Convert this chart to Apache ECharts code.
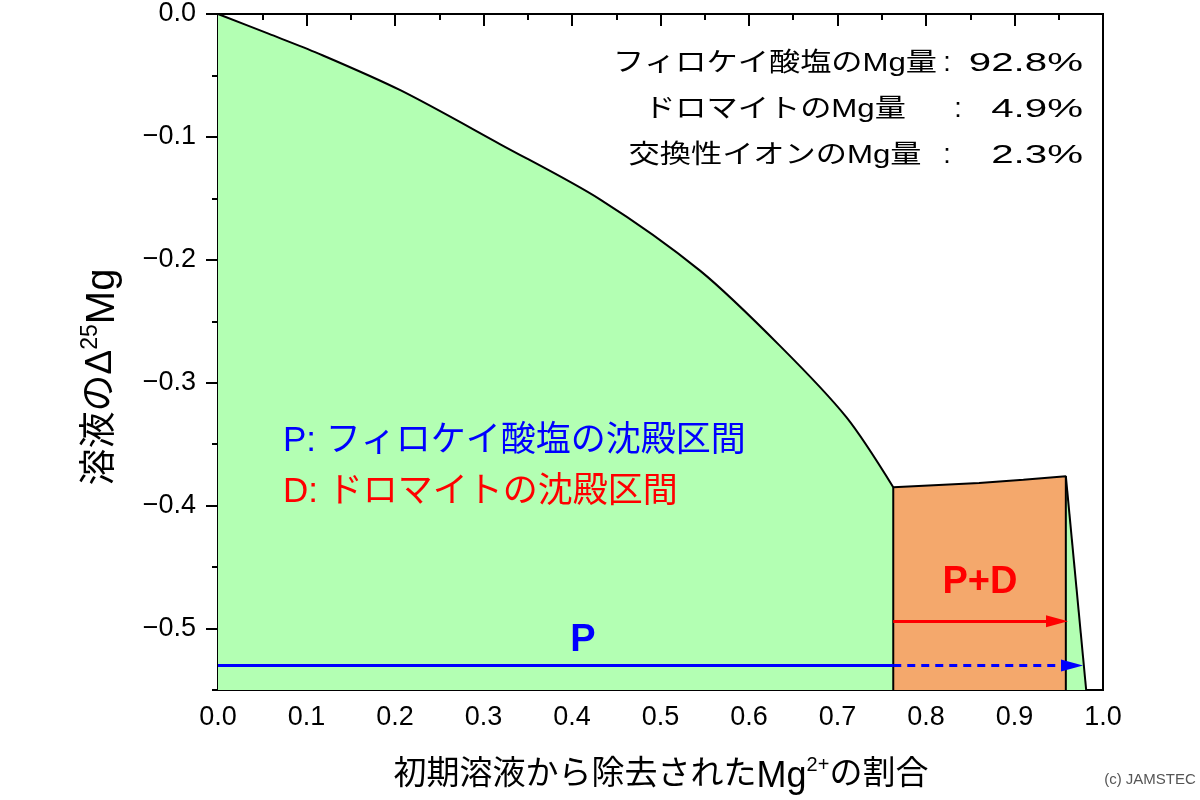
<!DOCTYPE html>
<html>
<head>
<meta charset="utf-8">
<title>溶液のΔ25Mg</title>
<script src="https://cdn.jsdelivr.net/npm/echarts@6/dist/echarts.min.js"></script>
<style>
    html, body { margin: 0; padding: 0; background: #fff; }
    #charts1 { width: 1200px; height: 800px; }
</style>
</head>
<body>
<div id="charts1"></div>
<script>
//字体
const font = '"Liberation Sans", Arial, "Noto Sans CJK JP", sans-serif';

//曲线 (フィロケイ酸塩)
const curveX = [0, 0.057, 0.113, 0.206, 0.319, 0.432, 0.545, 0.635, 0.71, 0.763];
const curveY = [0, -0.016, -0.032, -0.062, -0.106, -0.151, -0.209, -0.270, -0.328, -0.385];
//ドロマイト区间上沿
const dolX = [0.763, 0.86, 0.91, 0.958];
const dolY = [-0.385, -0.3815, -0.379, -0.376];
//末端
const tailX = [0.958, 0.981];
const tailY = [-0.376, -0.55];

//坐标轴
const xMin = 0, xMax = 1, xStep = 0.1;
const yMin = -0.55, yMax = 0, yMinorStep = 0.05;
const yTicks = [0, -0.1, -0.2, -0.3, -0.4, -0.5];

//箭头
const arrowPY = -0.530;
const arrowPX = [0, 0.763, 0.965];
const arrowDY = -0.494;
const arrowDX = [0.763, 0.948];

//文字
const massLabels = ['フィロケイ酸塩のMg量', 'ドロマイトのMg量', '交換性イオンのMg量'];
const massValues = ['92.8%', '4.9%', '2.3%'];

function zip(xs, ys) {
    return xs.map(function (x, i) { return [x, ys[i]]; });
}

const curveData = zip(curveX, curveY);
const tailData = zip(tailX, tailY);
const orangeData = [[dolX[0], yMin]].concat(zip(dolX, dolY)).concat([[dolX[dolX.length - 1], yMin]]);

let charts1 = echarts.init(document.getElementById('charts1'));

function fmtY(v) {
    if (Math.abs(v) < 1e-9) return '0.0';
    return '\u2212' + Math.abs(v).toFixed(1);
}

function txt(x, y, style, extra) {
    let el = { type: 'text', x: x, y: y, z: 100, silent: true, style: style };
    return Object.assign(el, extra || {});
}

let graphics = [];
//右上文字
massLabels.forEach(function (t, i) {
    let y = 64 + i * 46;
    graphics.push(txt(775, y, { text: t, fontSize: 26, fontFamily: font, fill: '#000', align: 'center', verticalAlign: 'middle' }, { scaleX: 1.2 }));
    graphics.push(txt(i === 1 ? 958 : 947, y, { text: ':', fontSize: 27, fontFamily: font, fill: '#000', align: 'center', verticalAlign: 'middle' }));
    graphics.push(txt(1083, y, { text: massValues[i], fontSize: 26, fontFamily: font, fill: '#000', align: 'right', verticalAlign: 'middle' }, { scaleX: 1.55 }));
});
//图例说明
graphics.push(txt(283, 441, { text: 'P: フィロケイ酸塩の沈殿区間', fontSize: 35, fontFamily: font, fill: '#0000ff', align: 'left', verticalAlign: 'middle' }));
graphics.push(txt(283, 492, { text: 'D: ドロマイトの沈殿区間', fontSize: 35, fontFamily: font, fill: '#ff0000', align: 'left', verticalAlign: 'middle' }));
graphics.push(txt(583, 641, { text: 'P', fontSize: 38, fontWeight: 'bold', fontFamily: font, fill: '#0000ff', align: 'center', verticalAlign: 'middle' }));
graphics.push(txt(980, 583, { text: 'P+D', fontSize: 38, fontWeight: 'bold', fontFamily: font, fill: '#ff0000', align: 'center', verticalAlign: 'middle' }));
//轴标题
graphics.push(txt(661, 775, {
    text: '初期溶液から除去された{m|Mg}{sup|2+}の割合', fontSize: 33, fontFamily: font, fill: '#000',
    align: 'center', verticalAlign: 'middle', lineHeight: 40,
    rich: {
        m: { fontSize: 36, fontFamily: font, lineHeight: 40, verticalAlign: 'bottom' },
        sup: { fontSize: 20, fontFamily: font, verticalAlign: 'top', lineHeight: 22 }
    }
}));
graphics.push(txt(101, 377, {
    text: '溶液のΔ{sup|25}{m|Mg}', fontSize: 37, fontFamily: font, fill: '#000',
    align: 'center', verticalAlign: 'middle', lineHeight: 44,
    rich: {
        m: { fontSize: 40, fontFamily: font, lineHeight: 44, verticalAlign: 'bottom' },
        sup: { fontSize: 23, fontFamily: font, verticalAlign: 'top', lineHeight: 24 }
    }
}, { rotation: Math.PI / 2 }));
graphics.push(txt(1150, 780, { text: '(c) JAMSTEC', fontSize: 15, fontFamily: font, fill: '#555', align: 'center', verticalAlign: 'middle' }));

let option = {
    animation: false,
    grid: {
        left: 218, right: 97, top: 14, bottom: 110,
        show: true, borderColor: '#000', borderWidth: 2, backgroundColor: 'transparent'
    },
    xAxis: {
        type: 'value', min: xMin, max: xMax, interval: xStep,
        axisLine: { show: true, lineStyle: { color: '#000', width: 2 } },
        axisTick: { show: true, inside: false, length: 12, lineStyle: { color: '#000', width: 2 } },
        minorTick: { show: true, splitNumber: 2, length: 6, lineStyle: { color: '#000', width: 2 } },
        splitLine: { show: false },
        axisLabel: { fontSize: 27, fontFamily: font, color: '#000', margin: 14,
            formatter: function (v) { return v.toFixed(1); } }
    },
    yAxis: [{
        type: 'value', min: yMin, max: yMax,
        axisLine: { show: true, lineStyle: { color: '#000', width: 2 } },
        axisTick: { show: true, inside: false, length: 12, customValues: yTicks, lineStyle: { color: '#000', width: 2 } },
        splitLine: { show: false },
        axisLabel: { fontSize: 27, fontFamily: font, color: '#000', margin: 22, customValues: yTicks, formatter: fmtY }
    }, {
        type: 'value', min: yMin, max: yMax, interval: yMinorStep, position: 'left',
        axisLine: { show: false },
        axisTick: { show: true, inside: false, length: 6, lineStyle: { color: '#000', width: 2 } },
        splitLine: { show: false },
        axisLabel: { show: false }
    }],
    graphic: graphics,
    series: [
        {
            type: 'line', data: curveData, showSymbol: false, symbol: 'none', z: 2,
            smooth: 0.3,
            lineStyle: { color: '#000', width: 2 },
            areaStyle: { color: '#b3ffb3', opacity: 1, origin: 'start' }
        },
        {
            type: 'line', data: tailData, showSymbol: false, symbol: 'none', z: 2,
            lineStyle: { color: '#000', width: 2 },
            areaStyle: { color: '#b3ffb3', opacity: 1, origin: 'start' }
        },
        {
            type: 'line', data: orangeData, showSymbol: false, symbol: 'none', z: 3,
            lineStyle: { color: '#000', width: 2 },
            areaStyle: { color: '#f4a86c', opacity: 1, origin: 'start' },
            markLine: {
                silent: true, animation: false, z: 5,
                label: { show: false },
                symbol: ['none', 'none'],
                data: [
                    [{ coord: [arrowPX[0], arrowPY], symbol: 'none' },
                     { coord: [arrowPX[1], arrowPY], symbol: 'none', lineStyle: { color: '#0000ff', width: 3, type: 'solid' } }],
                    [{ coord: [arrowPX[1], arrowPY], symbol: 'none' },
                     { coord: [arrowPX[2], arrowPY], symbol: 'triangle', symbolSize: [12, 22], lineStyle: { color: '#0000ff', width: 3, type: [8, 6] } }],
                    [{ coord: [arrowDX[0], arrowDY], symbol: 'none' },
                     { coord: [arrowDX[1], arrowDY], symbol: 'triangle', symbolSize: [12, 22], lineStyle: { color: '#ff0000', width: 3, type: 'solid' } }]
                ]
            }
        }
    ]
};
charts1.setOption(option);
</script>
</body>
</html>
